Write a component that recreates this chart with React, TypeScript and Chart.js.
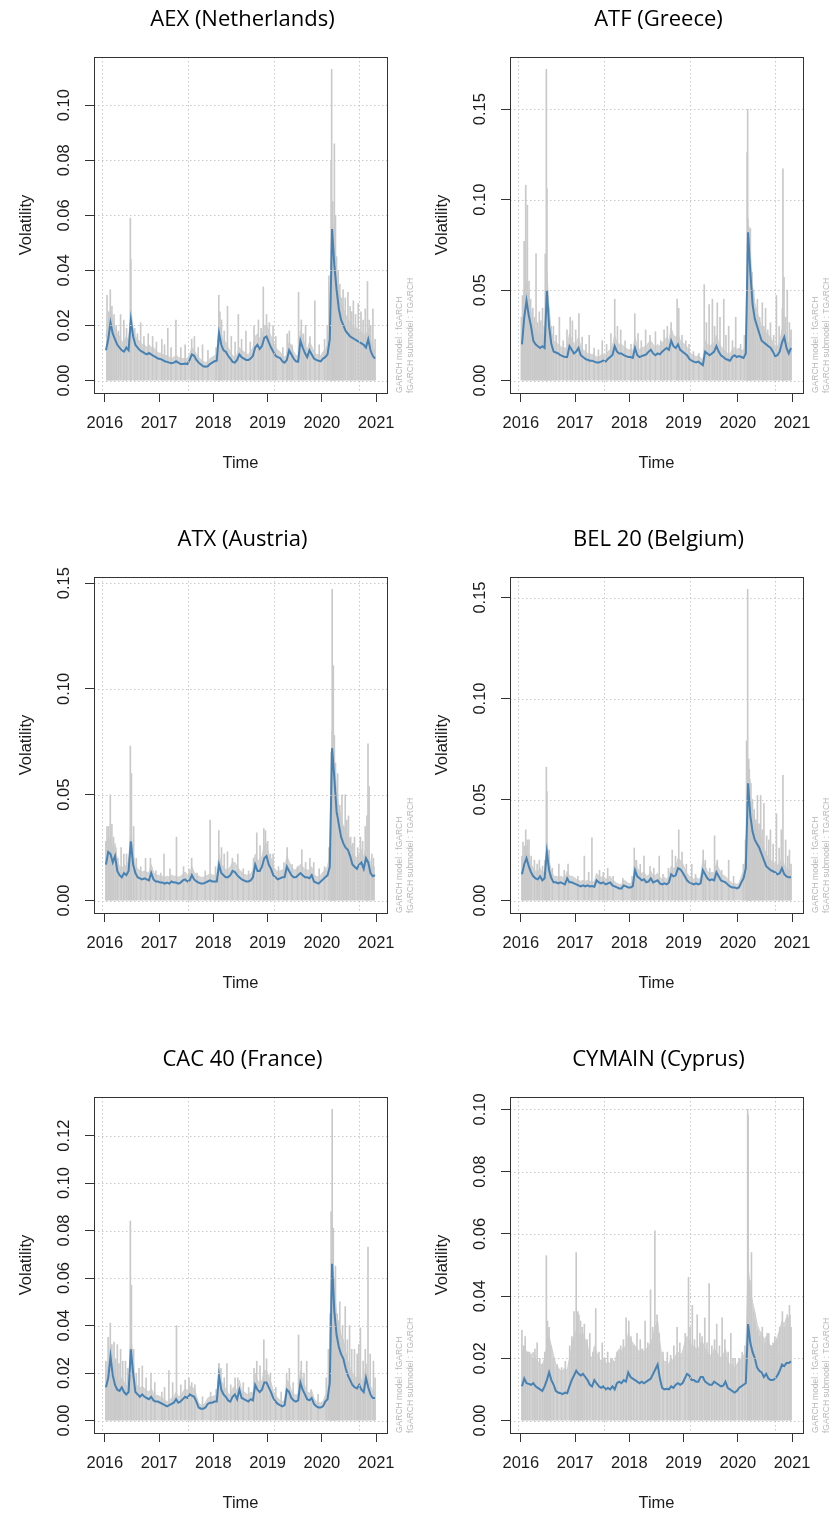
import React, { useEffect, useRef } from "react";
import { Chart, registerables } from "chart.js";

Chart.register(...registerables);

// ---------- shared axis data ----------
const MONTHS = [
  "2016-01","2016-02","2016-03","2016-04","2016-05","2016-06","2016-07","2016-08","2016-09","2016-10","2016-11","2016-12",
  "2017-01","2017-02","2017-03","2017-04","2017-05","2017-06","2017-07","2017-08","2017-09","2017-10","2017-11","2017-12",
  "2018-01","2018-02","2018-03","2018-04","2018-05","2018-06","2018-07","2018-08","2018-09","2018-10","2018-11","2018-12",
  "2019-01","2019-02","2019-03","2019-04","2019-05","2019-06","2019-07","2019-08","2019-09","2019-10","2019-11","2019-12",
  "2020-01","2020-02","2020-03","2020-04","2020-05","2020-06","2020-07","2020-08","2020-09","2020-10","2020-11","2020-12",
];
const YEAR_TICKS = [2016, 2017, 2018, 2019, 2020, 2021];
const GRID_X = [2015.945, 2017.53, 2019.12, 2020.69];
const X_MIN = 2015.8;
const X_MAX = 2021.2;

// ---------- AEX (Netherlands) ----------
const AEX_SIGMA = [
  0.011, 0.015, 0.021, 0.017, 0.015, 0.013, 0.012, 0.011, 0.0105, 0.012, 0.011, 0.022, 0.016, 0.013, 0.012, 0.011, 0.0105, 0.010, 0.0095, 0.010, 0.0095, 0.009, 0.0085, 0.008,
  0.0078, 0.0075, 0.007, 0.0068, 0.0065, 0.0063, 0.0065, 0.007, 0.0065, 0.006, 0.006, 0.0062, 0.006, 0.0075, 0.0095, 0.009, 0.0075, 0.0065, 0.0058, 0.0052, 0.005, 0.0052, 0.006, 0.0065,
  0.007, 0.0072, 0.0172, 0.013, 0.011, 0.0105, 0.009, 0.008, 0.0068, 0.0065, 0.0075, 0.0095, 0.0085, 0.008, 0.0075, 0.0075, 0.008, 0.009, 0.012, 0.013, 0.0115, 0.0125, 0.0155, 0.016,
  0.014, 0.012, 0.0105, 0.009, 0.0085, 0.0082, 0.007, 0.0065, 0.0075, 0.011, 0.0095, 0.008, 0.007, 0.0068, 0.0145, 0.012, 0.010, 0.0085, 0.011, 0.0095, 0.008, 0.0075, 0.0072, 0.007,
  0.008, 0.0085, 0.0095, 0.015, 0.055, 0.042, 0.033, 0.026, 0.022, 0.020, 0.018, 0.017, 0.016, 0.0155, 0.015, 0.0145, 0.014, 0.0135, 0.013, 0.012, 0.015, 0.011, 0.009, 0.008,
];
const AEX_ABSRET = [
  0.016, 0.021, 0.026, 0.022, 0.019, 0.017, 0.016, 0.014, 0.014, 0.016, 0.014, 0.026, 0.019, 0.016, 0.015, 0.014, 0.013, 0.013, 0.012, 0.013, 0.012, 0.012, 0.011, 0.010,
  0.010, 0.0095, 0.009, 0.009, 0.0085, 0.008, 0.0085, 0.009, 0.0085, 0.008, 0.008, 0.008, 0.008, 0.0095, 0.012, 0.011, 0.0095, 0.0085, 0.0075, 0.007, 0.0065, 0.007, 0.008, 0.0085,
  0.009, 0.0095, 0.022, 0.017, 0.014, 0.014, 0.012, 0.0105, 0.009, 0.0085, 0.0095, 0.012, 0.011, 0.0105, 0.0095, 0.0095, 0.0105, 0.012, 0.016, 0.017, 0.015, 0.016, 0.020, 0.020,
  0.018, 0.016, 0.014, 0.012, 0.011, 0.0105, 0.009, 0.0085, 0.0095, 0.014, 0.0125, 0.0105, 0.009, 0.009, 0.018, 0.016, 0.013, 0.011, 0.014, 0.0125, 0.0105, 0.0095, 0.0095, 0.009,
  0.0105, 0.011, 0.013, 0.020, 0.060, 0.050, 0.040, 0.033, 0.029, 0.026, 0.024, 0.022, 0.021, 0.020, 0.019, 0.019, 0.018, 0.0175, 0.017, 0.016, 0.019, 0.015, 0.012, 0.011,
];
const AEX_SPIKES = [
  [2016.04, 0.031], [2016.07, 0.025], [2016.10, 0.033], [2016.17, 0.024], [2016.21, 0.020], [2016.29, 0.024], [2016.35, 0.022],
  [2016.47, 0.059], [2016.48, 0.044], [2016.66, 0.021], [2016.80, 0.017], [2017.05, 0.015], [2017.16, 0.019], [2017.31, 0.022],
  [2017.60, 0.015], [2017.80, 0.013], [2018.10, 0.031], [2018.15, 0.022], [2018.26, 0.027], [2018.46, 0.024], [2018.60, 0.018],
  [2018.75, 0.020], [2018.92, 0.034], [2018.98, 0.024], [2019.10, 0.020], [2019.40, 0.018], [2019.57, 0.032], [2019.70, 0.020],
  [2019.87, 0.029], [2020.05, 0.015], [2020.13, 0.038], [2020.17, 0.080], [2020.18, 0.113], [2020.23, 0.086], [2020.27, 0.045],
  [2020.33, 0.035], [2020.39, 0.033], [2020.48, 0.032], [2020.58, 0.029], [2020.67, 0.028], [2020.72, 0.025], [2020.84, 0.036],
  [2020.90, 0.020], [2020.94, 0.026],
  [2016.13, 0.027], [2016.25, 0.018], [2016.40, 0.019], [2016.55, 0.019], [2016.60, 0.017], [2016.72, 0.016], [2016.88, 0.016],
  [2016.95, 0.014], [2017.10, 0.013], [2017.22, 0.012], [2017.40, 0.012], [2017.48, 0.013], [2017.65, 0.016], [2017.72, 0.012],
  [2017.90, 0.011], [2018.05, 0.012], [2018.12, 0.025], [2018.20, 0.018], [2018.33, 0.016], [2018.40, 0.014], [2018.52, 0.015],
  [2018.68, 0.014], [2018.83, 0.022], [2018.88, 0.019], [2019.03, 0.021], [2019.15, 0.016], [2019.28, 0.012], [2019.36, 0.017],
  [2019.45, 0.013], [2019.62, 0.022], [2019.66, 0.017], [2019.78, 0.016], [2019.95, 0.013], [2020.10, 0.020], [2020.20, 0.065],
  [2020.21, 0.050], [2020.25, 0.060], [2020.30, 0.040], [2020.36, 0.030], [2020.43, 0.030], [2020.52, 0.027], [2020.55, 0.025],
  [2020.62, 0.024], [2020.76, 0.022], [2020.80, 0.026], [2020.87, 0.022], [2020.98, 0.015],
];

// ---------- ATF (Greece) ----------
const ATF_SIGMA = [
  0.020, 0.035, 0.044, 0.036, 0.030, 0.022, 0.020, 0.019, 0.018, 0.019, 0.018, 0.050, 0.030, 0.020, 0.016, 0.0155, 0.015, 0.014, 0.0135, 0.013, 0.013, 0.019, 0.017, 0.015,
  0.016, 0.018, 0.014, 0.013, 0.012, 0.0115, 0.011, 0.011, 0.0105, 0.010, 0.010, 0.0105, 0.011, 0.0105, 0.012, 0.013, 0.014, 0.019, 0.016, 0.015, 0.015, 0.014, 0.0135, 0.013,
  0.013, 0.0125, 0.018, 0.014, 0.013, 0.0135, 0.014, 0.0145, 0.016, 0.017, 0.015, 0.014, 0.015, 0.0145, 0.016, 0.017, 0.018, 0.017, 0.022, 0.019, 0.018, 0.020, 0.017, 0.016,
  0.015, 0.014, 0.012, 0.011, 0.0105, 0.010, 0.0105, 0.0095, 0.0085, 0.016, 0.015, 0.014, 0.015, 0.016, 0.019, 0.016, 0.014, 0.013, 0.012, 0.0115, 0.011, 0.013, 0.014, 0.013,
  0.0135, 0.013, 0.0125, 0.015, 0.082, 0.060, 0.042, 0.034, 0.030, 0.026, 0.022, 0.021, 0.020, 0.019, 0.018, 0.016, 0.0135, 0.014, 0.016, 0.021, 0.024, 0.018, 0.015, 0.018,
];
const ATF_ABSRET = [
  0.030, 0.050, 0.055, 0.046, 0.038, 0.030, 0.028, 0.026, 0.025, 0.026, 0.025, 0.060, 0.040, 0.027, 0.022, 0.021, 0.020, 0.019, 0.018, 0.018, 0.018, 0.026, 0.023, 0.020,
  0.021, 0.024, 0.019, 0.017, 0.016, 0.015, 0.0145, 0.0145, 0.014, 0.013, 0.013, 0.014, 0.0145, 0.014, 0.016, 0.017, 0.019, 0.025, 0.021, 0.020, 0.020, 0.019, 0.018, 0.017,
  0.017, 0.0165, 0.024, 0.019, 0.017, 0.018, 0.0185, 0.019, 0.021, 0.022, 0.020, 0.0185, 0.020, 0.019, 0.021, 0.022, 0.024, 0.022, 0.029, 0.025, 0.024, 0.026, 0.022, 0.021,
  0.020, 0.0185, 0.016, 0.0145, 0.014, 0.013, 0.014, 0.0125, 0.0115, 0.022, 0.020, 0.019, 0.020, 0.021, 0.025, 0.021, 0.019, 0.017, 0.016, 0.015, 0.0145, 0.017, 0.0185, 0.017,
  0.018, 0.017, 0.0165, 0.022, 0.090, 0.070, 0.052, 0.043, 0.038, 0.034, 0.029, 0.028, 0.026, 0.025, 0.024, 0.021, 0.018, 0.019, 0.021, 0.028, 0.031, 0.024, 0.020, 0.024,
];
const ATF_SPIKES = [
  [2016.03, 0.047], [2016.06, 0.077], [2016.09, 0.108], [2016.12, 0.097], [2016.15, 0.055], [2016.22, 0.040], [2016.28, 0.070],
  [2016.34, 0.038], [2016.40, 0.040], [2016.45, 0.070], [2016.47, 0.172], [2016.48, 0.106], [2016.60, 0.030], [2016.71, 0.035],
  [2016.91, 0.035], [2016.95, 0.033], [2017.07, 0.037], [2017.26, 0.025], [2017.50, 0.022], [2017.73, 0.045], [2017.84, 0.028],
  [2018.10, 0.037], [2018.30, 0.028], [2018.48, 0.027], [2018.70, 0.030], [2018.88, 0.045], [2018.91, 0.040], [2019.10, 0.020],
  [2019.38, 0.053], [2019.47, 0.042], [2019.53, 0.045], [2019.62, 0.043], [2019.74, 0.045], [2019.83, 0.030], [2019.96, 0.035],
  [2020.17, 0.126], [2020.18, 0.150], [2020.20, 0.085], [2020.23, 0.084], [2020.29, 0.050], [2020.36, 0.045], [2020.45, 0.043],
  [2020.51, 0.040], [2020.60, 0.032], [2020.71, 0.047], [2020.82, 0.040], [2020.83, 0.117], [2020.85, 0.057], [2020.91, 0.050],
  [2020.95, 0.032],
  [2016.01, 0.035], [2016.18, 0.045], [2016.25, 0.035], [2016.31, 0.032], [2016.37, 0.033], [2016.43, 0.030], [2016.52, 0.040],
  [2016.56, 0.030], [2016.65, 0.025], [2016.78, 0.022], [2016.85, 0.028], [2017.01, 0.028], [2017.13, 0.024], [2017.20, 0.020],
  [2017.35, 0.018], [2017.43, 0.017], [2017.58, 0.020], [2017.66, 0.026], [2017.78, 0.030], [2017.92, 0.022], [2018.03, 0.020],
  [2018.16, 0.026], [2018.22, 0.022], [2018.38, 0.025], [2018.58, 0.022], [2018.64, 0.028], [2018.77, 0.032], [2018.97, 0.025],
  [2019.04, 0.022], [2019.18, 0.016], [2019.28, 0.015], [2019.42, 0.032], [2019.57, 0.030], [2019.67, 0.035], [2019.78, 0.025],
  [2019.90, 0.022], [2020.05, 0.020], [2020.12, 0.025], [2020.21, 0.070], [2020.26, 0.060], [2020.32, 0.040], [2020.40, 0.035],
  [2020.48, 0.030], [2020.55, 0.028], [2020.66, 0.025], [2020.76, 0.030], [2020.88, 0.035], [2020.98, 0.028],
];

// ---------- ATX (Austria) ----------
const ATX_SIGMA = [
  0.017, 0.023, 0.022, 0.018, 0.021, 0.014, 0.012, 0.011, 0.013, 0.012, 0.014, 0.028, 0.017, 0.013, 0.011, 0.0105, 0.010, 0.0105, 0.010, 0.0095, 0.013, 0.010, 0.009, 0.009,
  0.0085, 0.0085, 0.008, 0.0085, 0.008, 0.009, 0.0085, 0.0085, 0.008, 0.0085, 0.0095, 0.010, 0.009, 0.0095, 0.012, 0.010, 0.009, 0.0085, 0.008, 0.008, 0.0085, 0.009, 0.0095, 0.009,
  0.009, 0.009, 0.017, 0.013, 0.012, 0.011, 0.011, 0.012, 0.014, 0.0135, 0.012, 0.011, 0.010, 0.0095, 0.009, 0.009, 0.0095, 0.011, 0.017, 0.014, 0.014, 0.016, 0.020, 0.021,
  0.017, 0.015, 0.012, 0.011, 0.010, 0.0105, 0.011, 0.011, 0.016, 0.014, 0.012, 0.011, 0.011, 0.012, 0.013, 0.012, 0.011, 0.011, 0.0105, 0.012, 0.009, 0.0085, 0.008, 0.009,
  0.010, 0.011, 0.012, 0.016, 0.072, 0.058, 0.042, 0.036, 0.030, 0.027, 0.025, 0.024, 0.021, 0.017, 0.016, 0.015, 0.017, 0.018, 0.015, 0.020, 0.018, 0.013, 0.0115, 0.012,
];
const ATX_ABSRET = [
  0.023, 0.030, 0.029, 0.024, 0.027, 0.019, 0.016, 0.015, 0.017, 0.016, 0.019, 0.034, 0.022, 0.017, 0.015, 0.014, 0.0135, 0.014, 0.0135, 0.013, 0.017, 0.0135, 0.012, 0.012,
  0.0115, 0.0115, 0.011, 0.0115, 0.011, 0.012, 0.0115, 0.0115, 0.011, 0.0115, 0.0125, 0.0135, 0.012, 0.0125, 0.016, 0.0135, 0.012, 0.0115, 0.011, 0.011, 0.0115, 0.012, 0.0125, 0.012,
  0.012, 0.012, 0.022, 0.017, 0.016, 0.0145, 0.0145, 0.016, 0.018, 0.018, 0.016, 0.0145, 0.0135, 0.0125, 0.012, 0.012, 0.0125, 0.0145, 0.022, 0.019, 0.019, 0.021, 0.026, 0.027,
  0.022, 0.020, 0.016, 0.0145, 0.0135, 0.014, 0.0145, 0.0145, 0.021, 0.0185, 0.016, 0.0145, 0.0145, 0.016, 0.017, 0.016, 0.0145, 0.0145, 0.014, 0.016, 0.012, 0.0115, 0.011, 0.012,
  0.0135, 0.0145, 0.016, 0.022, 0.080, 0.066, 0.052, 0.045, 0.039, 0.035, 0.033, 0.031, 0.028, 0.023, 0.021, 0.020, 0.022, 0.024, 0.020, 0.026, 0.024, 0.0175, 0.0155, 0.016,
];
const ATX_SPIKES = [
  [2016.04, 0.035], [2016.07, 0.035], [2016.10, 0.050], [2016.13, 0.036], [2016.20, 0.025], [2016.30, 0.025], [2016.40, 0.022],
  [2016.47, 0.073], [2016.49, 0.060], [2016.53, 0.035], [2016.75, 0.020], [2017.09, 0.022], [2017.32, 0.030], [2017.60, 0.020],
  [2017.94, 0.038], [2018.10, 0.033], [2018.26, 0.023], [2018.45, 0.022], [2018.80, 0.032], [2018.93, 0.034], [2018.96, 0.033],
  [2019.10, 0.022], [2019.36, 0.025], [2019.63, 0.024], [2019.85, 0.018], [2020.17, 0.070], [2020.19, 0.147], [2020.21, 0.111],
  [2020.23, 0.078], [2020.29, 0.060], [2020.37, 0.050], [2020.43, 0.050], [2020.49, 0.040], [2020.60, 0.030], [2020.71, 0.030],
  [2020.80, 0.035], [2020.85, 0.074], [2020.87, 0.054], [2020.92, 0.022],
  [2016.02, 0.028], [2016.16, 0.030], [2016.24, 0.020], [2016.35, 0.022], [2016.44, 0.020], [2016.58, 0.020], [2016.66, 0.016],
  [2016.84, 0.020], [2016.94, 0.014], [2017.03, 0.013], [2017.20, 0.015], [2017.45, 0.016], [2017.55, 0.015], [2017.70, 0.013],
  [2017.85, 0.014], [2018.04, 0.016], [2018.15, 0.025], [2018.20, 0.022], [2018.35, 0.020], [2018.55, 0.015], [2018.65, 0.014],
  [2018.74, 0.020], [2018.86, 0.026], [2019.00, 0.028], [2019.05, 0.022], [2019.20, 0.016], [2019.30, 0.018], [2019.45, 0.017],
  [2019.55, 0.016], [2019.70, 0.018], [2019.78, 0.020], [2019.95, 0.015], [2020.05, 0.016], [2020.13, 0.025], [2020.20, 0.080],
  [2020.25, 0.065], [2020.33, 0.045], [2020.40, 0.035], [2020.46, 0.038], [2020.53, 0.030], [2020.57, 0.027], [2020.66, 0.025],
  [2020.75, 0.028], [2020.83, 0.040], [2020.95, 0.020],
];

// ---------- BEL 20 (Belgium) ----------
const BEL_SIGMA = [
  0.013, 0.018, 0.021, 0.017, 0.014, 0.012, 0.011, 0.0105, 0.012, 0.010, 0.011, 0.024, 0.015, 0.011, 0.009, 0.009, 0.0085, 0.009, 0.0085, 0.008, 0.011, 0.009, 0.009, 0.0085,
  0.008, 0.0075, 0.007, 0.0075, 0.007, 0.0075, 0.007, 0.0072, 0.0068, 0.010, 0.009, 0.0085, 0.009, 0.008, 0.0085, 0.009, 0.0075, 0.007, 0.0065, 0.006, 0.006, 0.0075, 0.007, 0.0065,
  0.0065, 0.007, 0.015, 0.012, 0.011, 0.010, 0.0105, 0.009, 0.0095, 0.011, 0.009, 0.0095, 0.010, 0.0085, 0.008, 0.0085, 0.008, 0.009, 0.013, 0.012, 0.0125, 0.016, 0.0155, 0.014,
  0.012, 0.010, 0.009, 0.0085, 0.008, 0.0085, 0.008, 0.0085, 0.015, 0.013, 0.011, 0.010, 0.0105, 0.010, 0.014, 0.012, 0.010, 0.0095, 0.009, 0.008, 0.007, 0.0065, 0.0065, 0.006,
  0.0065, 0.009, 0.011, 0.016, 0.058, 0.042, 0.034, 0.030, 0.028, 0.026, 0.023, 0.020, 0.017, 0.016, 0.015, 0.0145, 0.014, 0.013, 0.0135, 0.016, 0.013, 0.012, 0.0115, 0.0115,
];
const BEL_ABSRET = [
  0.018, 0.024, 0.027, 0.022, 0.018, 0.016, 0.0145, 0.014, 0.016, 0.0135, 0.0145, 0.029, 0.020, 0.0145, 0.012, 0.012, 0.0115, 0.012, 0.0115, 0.011, 0.0145, 0.012, 0.012, 0.0115,
  0.0105, 0.010, 0.0095, 0.010, 0.0095, 0.010, 0.0095, 0.0095, 0.009, 0.0135, 0.012, 0.0115, 0.012, 0.0105, 0.0115, 0.012, 0.010, 0.0095, 0.0085, 0.008, 0.008, 0.010, 0.0095, 0.0085,
  0.0085, 0.0095, 0.020, 0.016, 0.0145, 0.0135, 0.014, 0.012, 0.0125, 0.0145, 0.012, 0.0125, 0.0135, 0.0115, 0.0105, 0.0115, 0.0105, 0.012, 0.017, 0.016, 0.0165, 0.021, 0.020, 0.0185,
  0.016, 0.0135, 0.012, 0.0115, 0.0105, 0.0115, 0.0105, 0.0115, 0.020, 0.017, 0.0145, 0.0135, 0.014, 0.0135, 0.0185, 0.016, 0.0135, 0.0125, 0.012, 0.0105, 0.0095, 0.0085, 0.0085, 0.008,
  0.0085, 0.012, 0.0145, 0.022, 0.065, 0.050, 0.043, 0.039, 0.036, 0.034, 0.030, 0.026, 0.023, 0.021, 0.020, 0.019, 0.0185, 0.0175, 0.018, 0.021, 0.0175, 0.016, 0.015, 0.015,
];
const BEL_SPIKES = [
  [2016.04, 0.029], [2016.09, 0.035], [2016.15, 0.030], [2016.25, 0.020], [2016.34, 0.020], [2016.47, 0.066], [2016.48, 0.054],
  [2016.70, 0.018], [2017.17, 0.022], [2017.31, 0.031], [2017.60, 0.016], [2018.09, 0.026], [2018.27, 0.022], [2018.55, 0.022],
  [2018.79, 0.025], [2018.91, 0.035], [2019.15, 0.018], [2019.36, 0.025], [2019.57, 0.032], [2019.83, 0.020], [2020.16, 0.079],
  [2020.18, 0.154], [2020.20, 0.070], [2020.22, 0.060], [2020.30, 0.045], [2020.36, 0.052], [2020.42, 0.052], [2020.48, 0.048],
  [2020.60, 0.035], [2020.71, 0.043], [2020.80, 0.035], [2020.83, 0.062], [2020.95, 0.025],
  [2016.02, 0.022], [2016.07, 0.027], [2016.12, 0.030], [2016.19, 0.022], [2016.30, 0.018], [2016.40, 0.017], [2016.44, 0.020],
  [2016.52, 0.025], [2016.58, 0.016], [2016.80, 0.015], [2016.87, 0.018], [2017.05, 0.012], [2017.25, 0.014], [2017.45, 0.015],
  [2017.52, 0.014], [2017.70, 0.012], [2017.88, 0.011], [2018.05, 0.012], [2018.13, 0.020], [2018.20, 0.018], [2018.38, 0.017],
  [2018.45, 0.016], [2018.62, 0.013], [2018.72, 0.016], [2018.85, 0.022], [2018.97, 0.024], [2019.05, 0.018], [2019.22, 0.013],
  [2019.40, 0.020], [2019.48, 0.016], [2019.62, 0.020], [2019.70, 0.015], [2019.92, 0.012], [2020.10, 0.018], [2020.14, 0.030],
  [2020.21, 0.065], [2020.24, 0.058], [2020.27, 0.050], [2020.33, 0.040], [2020.39, 0.038], [2020.45, 0.035], [2020.53, 0.032],
  [2020.57, 0.030], [2020.65, 0.028], [2020.76, 0.026], [2020.88, 0.030], [2020.92, 0.022], [2020.98, 0.018],
];

// ---------- CAC 40 (France) ----------
const CAC_SIGMA = [
  0.014, 0.018, 0.027, 0.019, 0.015, 0.013, 0.0125, 0.014, 0.012, 0.011, 0.012, 0.030, 0.020, 0.012, 0.011, 0.010, 0.011, 0.010, 0.0095, 0.009, 0.010, 0.0085, 0.008, 0.008,
  0.0075, 0.007, 0.0065, 0.006, 0.0065, 0.007, 0.0075, 0.009, 0.0075, 0.008, 0.009, 0.010, 0.0095, 0.011, 0.0105, 0.010, 0.008, 0.0055, 0.005, 0.005, 0.0055, 0.007, 0.0075, 0.0075,
  0.008, 0.008, 0.019, 0.013, 0.011, 0.010, 0.0085, 0.008, 0.010, 0.011, 0.009, 0.013, 0.0095, 0.009, 0.0085, 0.008, 0.009, 0.0085, 0.015, 0.013, 0.012, 0.013, 0.016, 0.016,
  0.014, 0.012, 0.0095, 0.008, 0.007, 0.0065, 0.006, 0.0065, 0.013, 0.012, 0.0095, 0.0085, 0.008, 0.0085, 0.016, 0.013, 0.011, 0.009, 0.0085, 0.0095, 0.007, 0.006, 0.0055, 0.0055,
  0.006, 0.008, 0.009, 0.016, 0.066, 0.046, 0.036, 0.031, 0.028, 0.026, 0.022, 0.019, 0.017, 0.015, 0.014, 0.0135, 0.015, 0.013, 0.012, 0.018, 0.014, 0.011, 0.0095, 0.0095,
];
const CAC_ABSRET = [
  0.019, 0.024, 0.032, 0.025, 0.020, 0.017, 0.0165, 0.018, 0.016, 0.0145, 0.016, 0.036, 0.026, 0.016, 0.0145, 0.0135, 0.0145, 0.0135, 0.0125, 0.012, 0.0135, 0.0115, 0.0105, 0.0105,
  0.010, 0.0095, 0.0085, 0.008, 0.0085, 0.0095, 0.010, 0.012, 0.010, 0.0105, 0.012, 0.0135, 0.0125, 0.0145, 0.014, 0.0135, 0.0105, 0.0075, 0.0065, 0.0065, 0.0075, 0.0095, 0.010, 0.010,
  0.0105, 0.0105, 0.024, 0.017, 0.0145, 0.0135, 0.0115, 0.0105, 0.0135, 0.0145, 0.012, 0.017, 0.0125, 0.012, 0.0115, 0.0105, 0.012, 0.0115, 0.020, 0.017, 0.016, 0.017, 0.021, 0.021,
  0.0185, 0.016, 0.0125, 0.0105, 0.0095, 0.0085, 0.008, 0.0085, 0.017, 0.016, 0.0125, 0.0115, 0.0105, 0.0115, 0.021, 0.017, 0.0145, 0.012, 0.0115, 0.0125, 0.0095, 0.008, 0.0075, 0.0075,
  0.008, 0.0105, 0.012, 0.022, 0.072, 0.055, 0.045, 0.040, 0.036, 0.034, 0.029, 0.025, 0.022, 0.020, 0.0185, 0.018, 0.020, 0.017, 0.016, 0.024, 0.0185, 0.0145, 0.0125, 0.0125,
];
const CAC_SPIKES = [
  [2016.06, 0.035], [2016.10, 0.041], [2016.17, 0.033], [2016.23, 0.032], [2016.29, 0.030], [2016.38, 0.025], [2016.47, 0.084],
  [2016.49, 0.057], [2016.69, 0.023], [2016.85, 0.020], [2017.18, 0.021], [2017.32, 0.040], [2017.55, 0.018], [2018.10, 0.024],
  [2018.25, 0.024], [2018.45, 0.018], [2018.80, 0.025], [2018.93, 0.034], [2019.35, 0.020], [2019.57, 0.036], [2019.72, 0.025],
  [2020.12, 0.030], [2020.17, 0.088], [2020.19, 0.131], [2020.21, 0.081], [2020.23, 0.060], [2020.28, 0.045], [2020.33, 0.050],
  [2020.43, 0.048], [2020.51, 0.040], [2020.60, 0.030], [2020.71, 0.039], [2020.85, 0.073], [2020.95, 0.025],
  [2016.02, 0.025], [2016.13, 0.032], [2016.20, 0.026], [2016.26, 0.024], [2016.33, 0.025], [2016.42, 0.022], [2016.53, 0.030],
  [2016.58, 0.020], [2016.63, 0.022], [2016.76, 0.018], [2016.92, 0.016], [2017.05, 0.012], [2017.10, 0.014], [2017.25, 0.016],
  [2017.40, 0.015], [2017.48, 0.017], [2017.60, 0.016], [2017.66, 0.015], [2017.80, 0.010], [2017.95, 0.012], [2018.05, 0.013],
  [2018.14, 0.022], [2018.20, 0.018], [2018.32, 0.015], [2018.40, 0.018], [2018.55, 0.016], [2018.65, 0.014], [2018.75, 0.022],
  [2018.86, 0.023], [2018.98, 0.026], [2019.05, 0.020], [2019.15, 0.014], [2019.25, 0.012], [2019.40, 0.022], [2019.47, 0.016],
  [2019.62, 0.025], [2019.67, 0.020], [2019.80, 0.013], [2019.93, 0.011], [2020.08, 0.018], [2020.15, 0.045], [2020.20, 0.075],
  [2020.25, 0.065], [2020.31, 0.042], [2020.38, 0.040], [2020.47, 0.034], [2020.55, 0.030], [2020.65, 0.028], [2020.68, 0.032],
  [2020.76, 0.025], [2020.80, 0.030], [2020.89, 0.028], [2020.98, 0.018],
];

// ---------- CYMAIN (Cyprus) ----------
const CYM_SIGMA = [
  0.011, 0.0135, 0.012, 0.0118, 0.0115, 0.012, 0.011, 0.0105, 0.010, 0.0095, 0.011, 0.013, 0.0155, 0.013, 0.0115, 0.0095, 0.009, 0.0088, 0.0085, 0.009, 0.0088, 0.011, 0.013, 0.0145,
  0.016, 0.015, 0.0145, 0.015, 0.014, 0.013, 0.0115, 0.011, 0.013, 0.012, 0.011, 0.0105, 0.011, 0.010, 0.0105, 0.010, 0.011, 0.010, 0.012, 0.0125, 0.012, 0.013, 0.0125, 0.0155,
  0.014, 0.0135, 0.013, 0.0125, 0.012, 0.0125, 0.012, 0.0125, 0.013, 0.0135, 0.015, 0.0165, 0.018, 0.0135, 0.0105, 0.010, 0.0102, 0.010, 0.011, 0.0105, 0.0115, 0.012, 0.0115, 0.012,
  0.0135, 0.015, 0.0145, 0.013, 0.013, 0.0125, 0.0125, 0.014, 0.014, 0.0125, 0.012, 0.0115, 0.0115, 0.0125, 0.012, 0.0115, 0.011, 0.0112, 0.0125, 0.0105, 0.010, 0.0095, 0.009, 0.0095,
  0.0105, 0.011, 0.0115, 0.012, 0.031, 0.025, 0.022, 0.020, 0.017, 0.016, 0.0155, 0.014, 0.015, 0.0135, 0.013, 0.013, 0.0135, 0.0145, 0.016, 0.018, 0.0175, 0.0185, 0.0185, 0.019,
];
const CYM_ABSRET = [
  0.021, 0.024, 0.022, 0.022, 0.021, 0.022, 0.020, 0.019, 0.018, 0.018, 0.020, 0.024, 0.027, 0.024, 0.021, 0.018, 0.017, 0.016, 0.016, 0.017, 0.016, 0.020, 0.024, 0.027,
  0.029, 0.028, 0.027, 0.028, 0.026, 0.024, 0.021, 0.020, 0.024, 0.022, 0.020, 0.019, 0.020, 0.018, 0.019, 0.018, 0.020, 0.018, 0.022, 0.023, 0.022, 0.024, 0.023, 0.028,
  0.026, 0.025, 0.024, 0.023, 0.022, 0.023, 0.022, 0.023, 0.024, 0.025, 0.027, 0.030, 0.032, 0.025, 0.020, 0.019, 0.019, 0.018, 0.020, 0.019, 0.021, 0.022, 0.021, 0.022,
  0.025, 0.027, 0.026, 0.024, 0.024, 0.023, 0.023, 0.025, 0.025, 0.023, 0.022, 0.021, 0.021, 0.023, 0.022, 0.021, 0.020, 0.021, 0.023, 0.019, 0.018, 0.018, 0.017, 0.018,
  0.019, 0.020, 0.021, 0.022, 0.050, 0.042, 0.038, 0.035, 0.031, 0.029, 0.028, 0.026, 0.027, 0.025, 0.024, 0.024, 0.025, 0.027, 0.029, 0.032, 0.031, 0.033, 0.033, 0.034,
];
const CYM_SPIKES = [
  [2016.02, 0.029], [2016.12, 0.022], [2016.30, 0.025], [2016.47, 0.053], [2016.49, 0.032], [2016.55, 0.024], [2016.90, 0.024],
  [2016.98, 0.035], [2017.02, 0.054], [2017.07, 0.034], [2017.17, 0.031], [2017.38, 0.036], [2017.50, 0.025], [2017.60, 0.022],
  [2017.78, 0.022], [2017.94, 0.033], [2017.99, 0.032], [2018.14, 0.028], [2018.29, 0.032], [2018.39, 0.042], [2018.47, 0.061],
  [2018.55, 0.028], [2018.70, 0.022], [2018.88, 0.030], [2019.09, 0.046], [2019.16, 0.037], [2019.25, 0.034], [2019.30, 0.028],
  [2019.39, 0.033], [2019.47, 0.044], [2019.61, 0.031], [2019.71, 0.033], [2019.87, 0.028], [2019.95, 0.020], [2020.18, 0.100],
  [2020.19, 0.098], [2020.25, 0.054], [2020.36, 0.029], [2020.45, 0.030], [2020.57, 0.028], [2020.65, 0.025], [2020.72, 0.026],
  [2020.82, 0.035], [2020.91, 0.034], [2020.95, 0.037],
  [2016.05, 0.024], [2016.08, 0.027], [2016.16, 0.022], [2016.22, 0.020], [2016.26, 0.023], [2016.35, 0.020], [2016.40, 0.018],
  [2016.44, 0.022], [2016.52, 0.030], [2016.60, 0.020], [2016.67, 0.018], [2016.75, 0.017], [2016.82, 0.019], [2016.94, 0.027],
  [2017.05, 0.035], [2017.10, 0.032], [2017.13, 0.030], [2017.22, 0.026], [2017.27, 0.028], [2017.33, 0.022], [2017.44, 0.022],
  [2017.55, 0.020], [2017.66, 0.020], [2017.72, 0.019], [2017.84, 0.024], [2017.89, 0.026], [2018.03, 0.027], [2018.08, 0.024],
  [2018.20, 0.026], [2018.24, 0.023], [2018.34, 0.025], [2018.43, 0.030], [2018.51, 0.034], [2018.62, 0.022], [2018.76, 0.021],
  [2018.82, 0.024], [2018.93, 0.025], [2019.03, 0.028], [2019.12, 0.030], [2019.20, 0.026], [2019.34, 0.027], [2019.43, 0.025],
  [2019.52, 0.024], [2019.57, 0.026], [2019.66, 0.024], [2019.76, 0.026], [2019.82, 0.022], [2019.91, 0.020], [2020.02, 0.020],
  [2020.08, 0.022], [2020.13, 0.024], [2020.22, 0.045], [2020.29, 0.035], [2020.32, 0.032], [2020.40, 0.027], [2020.50, 0.025],
  [2020.54, 0.028], [2020.61, 0.024], [2020.68, 0.027], [2020.77, 0.030], [2020.86, 0.030], [2020.98, 0.030],
];

const TICKS_002_010 = [0, 0.02, 0.04, 0.06, 0.08, 0.1];
const TICKS_005_015 = [0, 0.05, 0.1, 0.15];
const TICKS_002_012 = [0, 0.02, 0.04, 0.06, 0.08, 0.1, 0.12];

const PANELS = [
  { title: "AEX (Netherlands)", sigma: AEX_SIGMA, band: AEX_ABSRET, spikes: AEX_SPIKES, yTicks: TICKS_002_010 },
  { title: "ATF (Greece)", sigma: ATF_SIGMA, band: ATF_ABSRET, spikes: ATF_SPIKES, yTicks: TICKS_005_015 },
  { title: "ATX (Austria)", sigma: ATX_SIGMA, band: ATX_ABSRET, spikes: ATX_SPIKES, yTicks: TICKS_005_015 },
  { title: "BEL 20 (Belgium)", sigma: BEL_SIGMA, band: BEL_ABSRET, spikes: BEL_SPIKES, yTicks: TICKS_005_015 },
  { title: "CAC 40 (France)", sigma: CAC_SIGMA, band: CAC_ABSRET, spikes: CAC_SPIKES, yTicks: TICKS_002_012 },
  { title: "CYMAIN (Cyprus)", sigma: CYM_SIGMA, band: CYM_ABSRET, spikes: CYM_SPIKES, yTicks: TICKS_002_010 },
];

const W = 416;
const H = 475;
const AXIS_FONT = '16.5px "Liberation Sans", Arial, sans-serif';
const TEXT_COLOR = "#1c1c1c";

function halfMonthTime(i: number): number {
  const [y, m] = MONTHS[Math.floor(i / 2)].split("-").map(Number);
  return y + (m - 1) / 12 + ((i % 2) + 0.5) / 24;
}

function PanelChart({ panel, left, top }: { panel: any; left: number; top: number }) {
  const ref = useRef<HTMLCanvasElement | null>(null);

  useEffect(() => {
    const canvas = ref.current;
    if (!canvas) return;
    const sigmaPts = panel.sigma.map((v: number, i: number) => ({ x: halfMonthTime(i), y: v }));
    const bandPts = panel.band.map((v: number, i: number) => ({ x: halfMonthTime(i), y: v }));
    const spikePts = panel.spikes.map((s: number[]) => ({ x: s[0], y: s[1] }));
    const dataMax = Math.max(...panel.sigma, ...panel.band, ...panel.spikes.map((s: number[]) => s[1]));
    const ext = 0.04 * dataMax;

    const rPlot = {
      id: "rPlot",
      afterDatasetsDraw(chart: any) {
        const { ctx, chartArea: a, scales } = chart;
        ctx.save();
        ctx.beginPath();
        ctx.rect(a.left, a.top, a.right - a.left, a.bottom - a.top);
        ctx.clip();
        ctx.strokeStyle = "#c8c8c8";
        ctx.lineWidth = 1;
        ctx.setLineDash([1.5, 2.5]);
        for (const v of panel.yTicks) {
          const py = Math.round(scales.y.getPixelForValue(v)) + 0.5;
          ctx.beginPath();
          ctx.moveTo(a.left, py);
          ctx.lineTo(a.right, py);
          ctx.stroke();
        }
        for (const v of GRID_X) {
          const px = Math.round(scales.x.getPixelForValue(v)) + 0.5;
          ctx.beginPath();
          ctx.moveTo(px, a.top);
          ctx.lineTo(px, a.bottom);
          ctx.stroke();
        }
        ctx.restore();
      },
      afterDraw(chart: any) {
        const { ctx, chartArea: a, scales } = chart;
        ctx.save();
        ctx.strokeStyle = "#333";
        ctx.lineWidth = 1;
        ctx.strokeRect(Math.round(a.left) + 0.5, Math.round(a.top) + 0.5, Math.round(a.right - a.left), Math.round(a.bottom - a.top));

        ctx.fillStyle = "#000";
        ctx.font = '22px "Open Sans", "Noto Sans", sans-serif';
        ctx.textAlign = "center";
        ctx.textBaseline = "middle";
        ctx.fillText(panel.title, (a.left + a.right) / 2 + 2, a.top - 37);

        ctx.fillStyle = TEXT_COLOR;
        ctx.font = AXIS_FONT;
        for (const yr of YEAR_TICKS) {
          ctx.fillText(String(yr), scales.x.getPixelForValue(yr), a.bottom + 30);
        }
        ctx.fillText("Time", (a.left + a.right) / 2, a.bottom + 70);

        for (const v of panel.yTicks) {
          ctx.save();
          ctx.translate(a.left - 30, scales.y.getPixelForValue(v));
          ctx.rotate(-Math.PI / 2);
          ctx.fillText(v.toFixed(2), 0, 0);
          ctx.restore();
        }
        ctx.save();
        ctx.translate(a.left - 68, (a.top + a.bottom) / 2);
        ctx.rotate(-Math.PI / 2);
        ctx.fillText("Volatility", 0, 0);
        ctx.restore();

        ctx.fillStyle = "#b8b8b8";
        ctx.font = '8.5px "Liberation Sans", Arial, sans-serif';
        ctx.textAlign = "left";
        const notes = ["GARCH model : fGARCH", "fGARCH submodel : TGARCH"];
        notes.forEach((txt, i) => {
          ctx.save();
          ctx.translate(a.right + 13 + i * 11, a.bottom);
          ctx.rotate(-Math.PI / 2);
          ctx.fillText(txt, 0, 0);
          ctx.restore();
        });
        ctx.restore();
      },
    };

    const tickGrid = { drawOnChartArea: false, drawTicks: true, tickLength: 9, color: "#333", lineWidth: 1, offset: false };

    const chart = new Chart(canvas, {
      type: "line",
      data: {
        datasets: [
          {
            type: "line",
            data: sigmaPts,
            borderColor: "#4682b4",
            borderWidth: 2,
            pointRadius: 0,
            tension: 0,
            fill: false,
            order: 0,
          },
          {
            type: "bar",
            data: spikePts,
            backgroundColor: "#c9c9c9",
            barThickness: 1,
            borderWidth: 0,
            grouped: false,
            order: 1,
          },
          {
            type: "line",
            data: bandPts,
            borderColor: "#d0d0d0",
            borderWidth: 1,
            backgroundColor: "#d5d5d5",
            fill: "origin",
            pointRadius: 0,
            tension: 0,
            order: 2,
          },
        ],
      } as any,
      options: {
        animation: false,
        responsive: false,
        maintainAspectRatio: false,
        devicePixelRatio: 1,
        events: [],
        layout: { padding: { left: 0, right: 29, top: 57, bottom: 0 } },
        plugins: {
          legend: { display: false },
          tooltip: { enabled: false },
          title: { display: false },
        },
        scales: {
          x: {
            type: "linear",
            min: X_MIN,
            max: X_MAX,
            offset: false,
            afterBuildTicks: (s: any) => {
              s.ticks = YEAR_TICKS.map((v) => ({ value: v }));
            },
            afterFit: (s: any) => {
              s.height = 82;
            },
            grid: tickGrid,
            border: { display: false },
            ticks: { display: false },
          },
          y: {
            type: "linear",
            min: -ext,
            max: dataMax + ext,
            afterBuildTicks: (s: any) => {
              s.ticks = panel.yTicks.map((v: number) => ({ value: v }));
            },
            afterFit: (s: any) => {
              s.width = 94;
            },
            grid: tickGrid,
            border: { display: false },
            ticks: { display: false },
          },
        },
      } as any,
      plugins: [rPlot],
    });

    let alive = true;
    const fonts: any = (document as any).fonts;
    if (fonts && fonts.load) {
      Promise.all([fonts.load('22px "Open Sans"'), fonts.load('16px "Liberation Sans"')])
        .then(() => {
          if (alive) chart.draw();
        })
        .catch(() => {});
    }
    return () => {
      alive = false;
      chart.destroy();
    };
  }, [panel]);

  return (
    <canvas
      ref={ref}
      width={W}
      height={H}
      style={{ position: "absolute", left, top, width: W, height: H, display: "block" }}
    />
  );
}

export default function App() {
  return (
    <div style={{ position: "absolute", left: 0, top: 0, width: 832, height: 1515, background: "#fff", overflow: "hidden" }}>
      {PANELS.map((p, i) => (
        <PanelChart key={p.title} panel={p} left={(i % 2) * 416} top={Math.floor(i / 2) * 520} />
      ))}
    </div>
  );
}
